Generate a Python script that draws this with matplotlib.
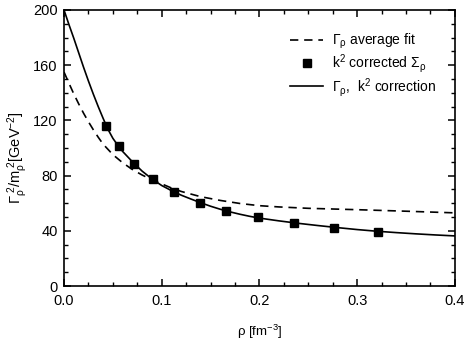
import matplotlib
matplotlib.use("Agg")
import matplotlib.pyplot as plt
from matplotlib.ticker import MultipleLocator

plt.rcParams['font.family'] = ['Liberation Sans', 'DejaVu Sans']
plt.rcParams['mathtext.fontset'] = 'custom'
plt.rcParams['mathtext.rm'] = 'Liberation Sans'
plt.rcParams['mathtext.it'] = 'Liberation Sans'
plt.rcParams['mathtext.sf'] = 'Liberation Sans'

# Dashed curve: Gamma_rho average fit
fit_rho = [0.0, 0.005, 0.01, 0.015, 0.02, 0.025, 0.03, 0.035, 0.04, 0.05, 0.06, 0.07,
           0.08, 0.09, 0.10, 0.11, 0.12, 0.14, 0.16, 0.18, 0.20, 0.22, 0.25, 0.30,
           0.35, 0.40]
fit_val = [155, 147, 139.2, 132, 125.2, 119, 113.2, 107.8, 102.8, 95.2, 89.3, 84.4,
           80.4, 77, 74, 71, 68.5, 64.7, 62, 59.8, 58.2, 57.3, 56.3, 55.3,
           54.2, 53]

# Solid curve: Gamma_rho, k^2 correction
corr_rho = [0.0, 0.005, 0.01, 0.015, 0.02, 0.025, 0.03, 0.035, 0.04, 0.045, 0.05,
            0.056, 0.06, 0.07, 0.08, 0.09, 0.10, 0.11, 0.12, 0.13, 0.14, 0.15,
            0.16, 0.17, 0.18, 0.19, 0.20, 0.22, 0.24, 0.26, 0.28, 0.30, 0.32,
            0.34, 0.36, 0.38, 0.40]
corr_val = [200, 189.5, 179.5, 169, 158.5, 148.5, 139, 130, 121.5, 113.5, 107,
            101, 97.5, 90, 83.2, 77.6, 72.8, 69.1, 65.8, 63, 60.3, 57.8,
            55.6, 53.7, 52, 50.5, 49.2, 47.2, 45.4, 43.8, 42.3, 40.9, 39.7,
            38.7, 37.8, 37.0, 36.3]

# Squares: k^2 corrected Sigma_rho
pts_rho = [0.043, 0.056, 0.072, 0.091, 0.113, 0.139, 0.166, 0.198, 0.235, 0.276, 0.321]
pts_val = [116, 101.7, 88.6, 77.2, 68, 60.3, 54.5, 49.8, 45.9, 42.0, 38.9]

fig = plt.figure(figsize=(4.69, 3.42), dpi=100)
ax = fig.add_axes([0.1365, 0.1637, 0.8335, 0.8071])

l1, = ax.plot(fit_rho, fit_val, color='black', lw=1.2, ls=(0, (5, 3.5)),
              label=r'$\Gamma_\rho$ average fit')
l2, = ax.plot(pts_rho, pts_val, ls='none', marker='s', ms=5.5, color='black',
              label=r'k$^2$ corrected $\Sigma_\rho$')
l3, = ax.plot(corr_rho, corr_val, color='black', lw=1.2,
              label=r'$\Gamma_\rho$,  k$^2$ correction')

ax.set_xlim(0, 0.4)
ax.set_ylim(0, 200)
ax.xaxis.set_major_locator(MultipleLocator(0.1))
ax.xaxis.set_minor_locator(MultipleLocator(0.025))
ax.yaxis.set_major_locator(MultipleLocator(40))
ax.yaxis.set_minor_locator(MultipleLocator(10))
ax.xaxis.set_major_formatter(plt.FuncFormatter(lambda v, p: f'{v:.1f}'))
ax.tick_params(which='both', direction='in', top=True, right=True, labelsize=10.5)
ax.tick_params(which='major', length=5, width=1.1)
ax.tick_params(which='minor', length=3, width=1.0)
ax.tick_params(axis='x', which='major', pad=5.5)
ax.tick_params(axis='y', which='major', pad=4.5)
for s in ax.spines.values():
    s.set_linewidth(1.2)

ax.set_xlabel(r'ρ [fm$^{-3}$]', fontsize=9.5, labelpad=11)
ax.set_ylabel(r'$\Gamma_\rho^{\ 2}$/m$_\rho^{\ 2}$[GeV$^{-2}$]', fontsize=10.5)
ax.yaxis.set_label_coords(-0.087, 0.465)

ax.legend(handles=[l1, l2, l3], loc='upper left', frameon=False, fontsize=10,
          handlelength=2.4, handletextpad=0.6, labelspacing=0.05,
          borderpad=0, borderaxespad=0,
          bbox_to_anchor=(0.578, 0.92))

fig.savefig('out.png', dpi=100)
